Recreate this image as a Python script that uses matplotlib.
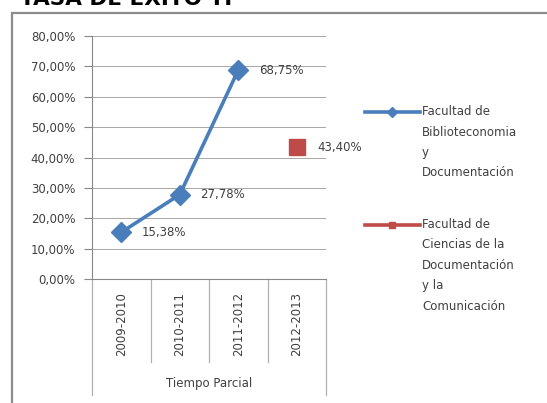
import matplotlib.pyplot as plt
from matplotlib.lines import Line2D
from matplotlib.patches import Rectangle
import numpy as np

# data
categories = ['2009-2010', '2010-2011', '2011-2012', '2012-2013']
group_label = 'Tiempo Parcial'
serie_byd = [15.38, 27.78, 68.75, np.nan]
serie_cdc = [np.nan, np.nan, np.nan, 43.40]
name_byd = 'Facultad de\nBiblioteconomia\ny\nDocumentación'
name_cdc = 'Facultad de\nCiencias de la\nDocumentación\ny la\nComunicación'
yticks = [0, 10, 20, 30, 40, 50, 60, 70, 80]

blue = '#4A7EBB'
red = '#BE4B48'
txt = '#404040'
W, H = 547, 403

fig = plt.figure(figsize=(W / 100, H / 100), dpi=100)
fig.patch.set_facecolor('white')

# outer chart frame (cut off at right / bottom)
fig.add_artist(Rectangle((12 / W, -0.05), 1.1, (H - 13) / H + 0.05,
                         transform=fig.transFigure, fill=False,
                         edgecolor='#8c8c8c', lw=1.6))
# title, mostly cut off above the frame
fig.text(20 / W, (H - 5) / H, 'TASA DE ÉXITO TP', fontsize=15.5,
         fontweight='bold', color='black', va='baseline', ha='left')

ax = fig.add_axes([92 / W, (H - 279) / H, 234 / W, 243 / H])
x = np.arange(len(categories))

ax.plot(x, serie_byd, color=blue, lw=2.6, marker='D', ms=10,
        markerfacecolor=blue, markeredgecolor=blue)
ax.plot(x, serie_cdc, color=red, lw=2.6, marker='s', ms=12,
        markerfacecolor=red, markeredgecolor=red, linestyle='none')

for serie in (serie_byd, serie_cdc):
    for xi, v in zip(x, serie):
        if not np.isnan(v):
            ax.annotate(f'{v:.2f}%'.replace('.', ','), (xi, v), xytext=(15, 0),
                        textcoords='offset points', va='center', ha='left',
                        fontsize=8.5, color=txt)

ax.set_xlim(-0.5, len(categories) - 0.5)
ax.set_ylim(0, 80)
ax.set_yticks(yticks)
ax.set_yticklabels([f'{t:.2f}%'.replace('.', ',') for t in yticks],
                   fontsize=8.5, color=txt)
ax.tick_params(axis='y', length=6, pad=6, color='#888888', width=0.8)
ax.set_xticks([])
ax.grid(axis='y', color='#a6a6a6', lw=0.7)
ax.set_axisbelow(True)
for s in ['top', 'right']:
    ax.spines[s].set_visible(False)
ax.spines['left'].set_color('#888888')
ax.spines['bottom'].set_color('#888888')

# category axis with group label
tr = ax.get_xaxis_transform()
for i, b in enumerate(np.arange(len(categories) + 1) - 0.5):
    depth = -0.477 if i in (0, len(categories)) else -0.342
    ax.plot([b, b], [0, depth], transform=tr, color='#b0b0b0', lw=0.9,
            clip_on=False)
for xi, c in zip(x, categories):
    ax.text(xi, -0.185, c, transform=tr, rotation=90, ha='center',
            va='center', fontsize=8.5, color=txt)
ax.text((len(categories) - 1) / 2, -0.428, group_label, transform=tr,
        ha='center', va='center', fontsize=8.5, color=txt)

# legend
for ycen, name, col, mk in [(112, name_byd, blue, 'D'), (225, name_cdc, red, 's')]:
    fig.add_artist(Line2D([365 / W, 420 / W], [(H - ycen) / H] * 2,
                          transform=fig.transFigure, color=col, lw=2.6))
    fig.add_artist(Line2D([392 / W], [(H - ycen) / H], marker=mk, ms=5,
                          color=col, transform=fig.transFigure))
    fig.text(422 / W, (H - ycen + 7) / H, name, fontsize=8.5, color=txt,
             va='top', ha='left', linespacing=1.75)

fig.savefig('out.png', dpi=100, facecolor='white')
